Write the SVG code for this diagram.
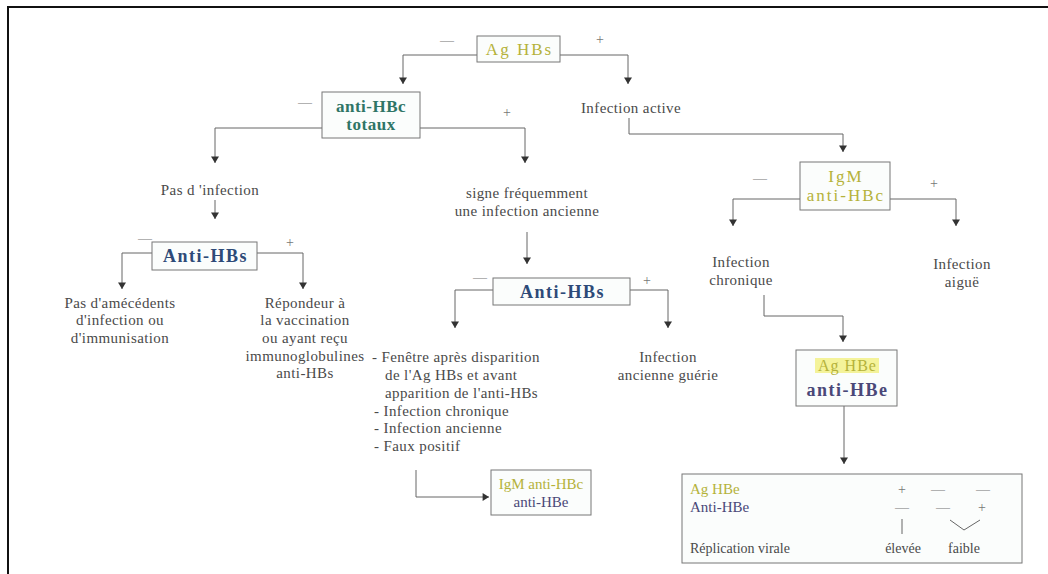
<svg xmlns="http://www.w3.org/2000/svg" width="1048" height="574" viewBox="0 0 1048 574" font-family="'Liberation Serif', 'Times New Roman', serif">
<style>
text{font-family:'Liberation Serif','Times New Roman',serif}
.t{font-size:15px;letter-spacing:0.4px;fill:#4a4a4a}
.tb{font-size:14px;fill:#4a4a4a}
.bx{fill:#fbfdfc;stroke:#777;stroke-width:1}
.c{fill:none;stroke:#666;stroke-width:1}
.b{font-weight:bold}
.s{font-size:14px;fill:#777}
.y{fill:#b5b23a}
.g{fill:#2f7566}
.n{fill:#2d4a78}
.p{fill:#4a4878}
</style>
<defs>
<marker id="a" viewBox="0 0 10 10" refX="9" refY="5" markerWidth="8" markerHeight="8" orient="auto" markerUnits="userSpaceOnUse">
<path d="M1,0 L9,5 L1,10 Z" fill="#333"/>
</marker>
</defs>
<rect x="0" y="0" width="1048" height="574" fill="#ffffff"/>
<path d="M8,574 V7 H1048" fill="none" stroke="#111" stroke-width="2"/>

<g id="connectors">
<path class="c" d="M477,55 H403 V84" marker-end="url(#a)"/>
<path class="c" d="M560,55 H628 V84" marker-end="url(#a)"/>
<path class="c" d="M322,128 H215 V163" marker-end="url(#a)"/>
<path class="c" d="M420,128 H525 V163" marker-end="url(#a)"/>
<path class="c" d="M629,118 V134 H843 V152" marker-end="url(#a)"/>
<path class="c" d="M800,199 H733 V226" marker-end="url(#a)"/>
<path class="c" d="M890,199 H956 V226" marker-end="url(#a)"/>
<path class="c" d="M215,200 V219" marker-end="url(#a)"/>
<path class="c" d="M152,253 H122 V289" marker-end="url(#a)"/>
<path class="c" d="M257,253 H303 V289" marker-end="url(#a)"/>
<path class="c" d="M527,232 V264" marker-end="url(#a)"/>
<path class="c" d="M493,290 H455 V328" marker-end="url(#a)"/>
<path class="c" d="M630,290 H668 V328" marker-end="url(#a)"/>
<path class="c" d="M764,295 V316 H843 V342" marker-end="url(#a)"/>
<path class="c" d="M844,406 V464" marker-end="url(#a)"/>
<path class="c" d="M416,470 V497 H489" marker-end="url(#a)"/>
</g>

<g id="agHBs">
<rect class="bx" x="477" y="36" width="83" height="26" fill="#fdfcef"/>
<text class="y" x="519.5" y="55" text-anchor="middle" font-size="17" letter-spacing="2">Ag HBs</text>
<text class="s" x="447" y="45" text-anchor="middle">—</text>
<text class="s" x="600" y="44" text-anchor="middle">+</text>
</g>

<g id="antiHBcTotaux">
<rect class="bx" x="322" y="92" width="98" height="46"/>
<text class="b g" x="371" y="112" text-anchor="middle" font-size="17" letter-spacing="0.5">anti-HBc</text>
<text class="b g" x="371" y="130" text-anchor="middle" font-size="17" letter-spacing="0.5">totaux</text>
<text class="s" x="305" y="107" text-anchor="middle">—</text>
<text class="s" x="507" y="117" text-anchor="middle">+</text>
</g>

<g id="infectionActive">
<text class="t" x="631" y="113" text-anchor="middle">Infection active</text>
</g>

<g id="igmAntiHBc">
<rect class="bx" x="800" y="162" width="90" height="48"/>
<text class="y" x="846" y="182" text-anchor="middle" font-size="17" letter-spacing="2">IgM</text>
<text class="y" x="846" y="201" text-anchor="middle" font-size="17" letter-spacing="2">anti-HBc</text>
<text class="s" x="760" y="183" text-anchor="middle">—</text>
<text class="s" x="934" y="188" text-anchor="middle">+</text>
</g>

<g id="pasInfection">
<text class="t" x="210" y="195" text-anchor="middle">Pas d 'infection</text>
</g>

<g id="signe">
<text class="t" x="527" y="198" text-anchor="middle">signe fréquemment</text>
<text class="t" x="527" y="216" text-anchor="middle">une infection ancienne</text>
</g>

<g id="infChronique">
<text class="t" x="741" y="267" text-anchor="middle">Infection</text>
<text class="t" x="741" y="285" text-anchor="middle">chronique</text>
</g>

<g id="infAigue">
<text class="t" x="962" y="269" text-anchor="middle">Infection</text>
<text class="t" x="962" y="287" text-anchor="middle">aiguë</text>
</g>

<g id="antiHBsLeft">
<rect class="bx" x="152" y="242" width="105" height="28"/>
<text class="b n" x="205.5" y="262" text-anchor="middle" font-size="18" letter-spacing="1.5">Anti-HBs</text>
<text class="s" x="145" y="243" text-anchor="middle">—</text>
<text class="s" x="290" y="247" text-anchor="middle">+</text>
</g>

<g id="pasAntecedents">
<text class="t" x="120" y="308" text-anchor="middle">Pas d'amécédents</text>
<text class="t" x="120" y="325" text-anchor="middle">d'infection ou</text>
<text class="t" x="120" y="343" text-anchor="middle">d'immunisation</text>
</g>

<g id="repondeur">
<text class="t" x="305" y="308" text-anchor="middle">Répondeur à</text>
<text class="t" x="305" y="325" text-anchor="middle">la vaccination</text>
<text class="t" x="305" y="343" text-anchor="middle">ou ayant reçu</text>
<text class="t" x="305" y="361" text-anchor="middle">immunoglobulines</text>
<text class="t" x="305" y="378" text-anchor="middle">anti-HBs</text>
</g>

<g id="antiHBsCenter">
<rect class="bx" x="493" y="278" width="137" height="27"/>
<text class="b n" x="562.5" y="298" text-anchor="middle" font-size="18" letter-spacing="1.5">Anti-HBs</text>
<text class="s" x="480" y="282" text-anchor="middle">—</text>
<text class="s" x="647" y="285" text-anchor="middle">+</text>
</g>

<g id="fenetre">
<text class="t" x="372" y="362">- Fenêtre après disparition</text>
<text class="t" x="385" y="380">de l'Ag HBs et avant</text>
<text class="t" x="385" y="398">apparition de l'anti-HBs</text>
<text class="t" x="374" y="416">- Infection chronique</text>
<text class="t" x="374" y="433">- Infection ancienne</text>
<text class="t" x="374" y="451">- Faux positif</text>
</g>

<g id="ancienneGuerie">
<text class="t" x="668" y="362" text-anchor="middle">Infection</text>
<text class="t" x="668" y="380" text-anchor="middle">ancienne guérie</text>
</g>

<g id="agHBeAntiHBe">
<rect class="bx" x="796" y="350" width="101" height="56"/>
<rect x="815" y="358" width="64" height="15" fill="#f4f39a"/>
<text class="y" x="847.5" y="371" text-anchor="middle" font-size="16" letter-spacing="1">Ag HBe</text>
<text class="b p" x="847.5" y="396" text-anchor="middle" font-size="18" letter-spacing="1.5">anti-HBe</text>
</g>

<g id="igmAntiHBcBottom">
<rect class="bx" x="491" y="470" width="100" height="45"/>
<text class="y" x="541" y="489" text-anchor="middle" font-size="15">IgM anti-HBc</text>
<text class="p" x="541" y="507" text-anchor="middle" font-size="15">anti-HBe</text>
</g>

<g id="tableBox">
<rect class="bx" x="682" y="474" width="340" height="89"/>
<text class="y" x="690" y="494" font-size="15">Ag HBe</text>
<text class="p" x="690" y="512" font-size="15">Anti-HBe</text>
<text class="tb" x="690" y="553">Réplication virale</text>
<text class="s" x="902" y="494" text-anchor="middle">+</text>
<text class="s" x="938" y="494" text-anchor="middle">—</text>
<text class="s" x="983" y="494" text-anchor="middle">—</text>
<text class="s" x="902" y="512" text-anchor="middle">—</text>
<text class="s" x="943" y="512" text-anchor="middle">—</text>
<text class="s" x="982" y="512" text-anchor="middle">+</text>
<path class="c" d="M902,519 V534"/>
<path class="c" d="M950,520 L964,530 L980,520"/>
<text class="tb" x="903" y="553" text-anchor="middle">élevée</text>
<text class="tb" x="964" y="553" text-anchor="middle">faible</text>
</g>
</svg>
